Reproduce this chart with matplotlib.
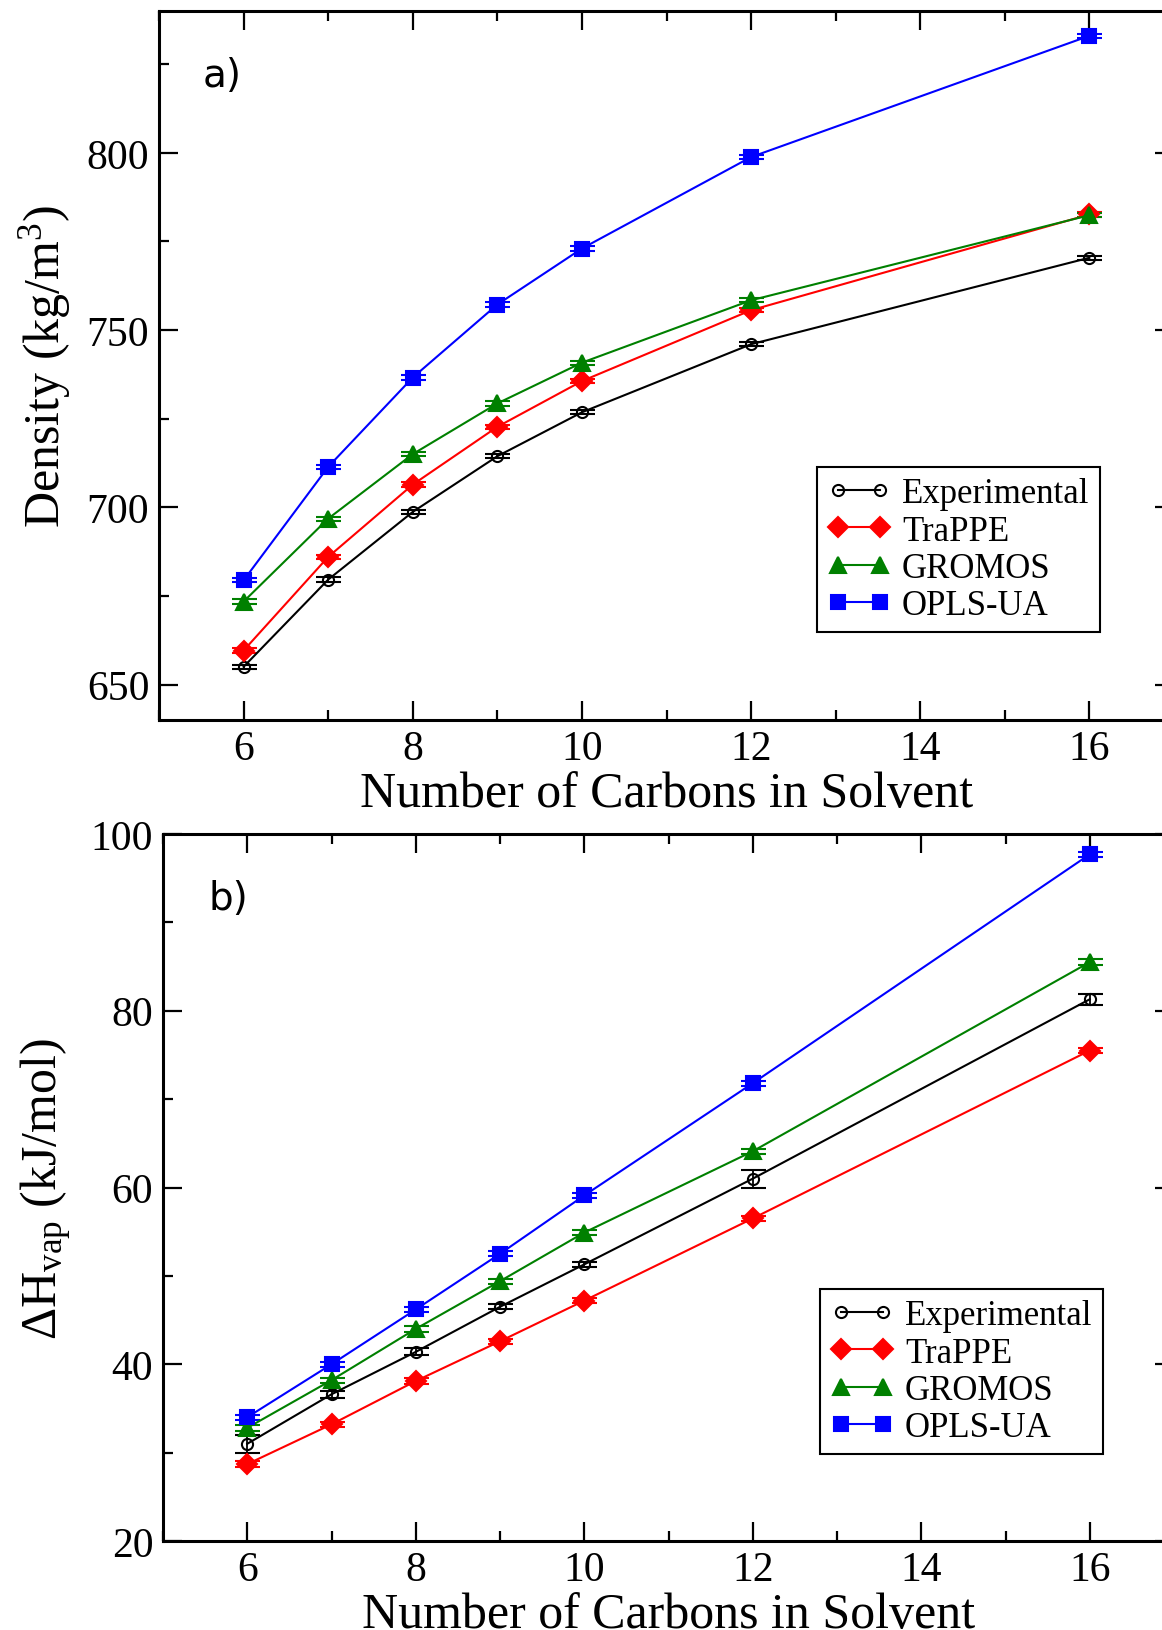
import numpy as np
import matplotlib
matplotlib.use('Agg')
import matplotlib.pyplot as plt

plt.rcParams['font.family'] = ['Liberation Serif', 'DejaVu Serif']
plt.rcParams['mathtext.fontset'] = 'custom'
plt.rcParams['mathtext.rm'] = 'Liberation Serif'
plt.rcParams['mathtext.it'] = 'Liberation Serif'

# carbons in solvent
carbons = [6, 7, 8, 9, 10, 12, 16]
labels = ['Experimental', 'TraPPE', 'GROMOS', 'OPLS-UA']

# a) density (kg/m^3)
dens_exp = [655.0, 679.6, 698.7, 714.4, 726.8, 746.0, 770.4]
dens_trappe = [659.6, 686.0, 706.4, 722.7, 735.6, 755.6, 782.6]
dens_gromos = [673.4, 696.8, 715.0, 729.3, 740.8, 758.4, 782.4]
dens_opls = [679.4, 711.4, 736.6, 757.2, 773.0, 798.8, 833.0]
dens_err = [0.6, 0.6, 0.6, 0.6, 0.6, 0.6, 0.6]

# b) heat of vaporization (kJ/mol)
hvap_exp = [31.0, 36.6, 41.4, 46.5, 51.3, 61.0, 81.3]
hvap_exp_err = [1.0, 0.4, 0.4, 0.3, 0.3, 1.0, 0.6]
hvap_trappe = [28.7, 33.2, 38.1, 42.6, 47.2, 56.5, 75.5]
hvap_gromos = [32.8, 38.2, 44.0, 49.4, 54.9, 64.1, 85.5]
hvap_opls = [34.0, 40.0, 46.2, 52.5, 59.1, 71.8, 97.7]
hvap_err = [0.3, 0.3, 0.3, 0.3, 0.3, 0.3, 0.3]

colors = ['black', 'red', 'green', 'blue']
markers = ['o', 'D', '^', 's']
msizes = [8, 10, 12, 10]

W, H = 1162, 1631
fig = plt.figure(figsize=(W / 100, H / 100), dpi=100)

def make_axes(left, right, top, bottom):
    return fig.add_axes([left / W, 1 - bottom / H, (right - left) / W, (bottom - top) / H])

ax1 = make_axes(159, 1174, 12, 721)
ax2 = make_axes(163, 1174, 835, 1542)


def style(ax):
    for s in ax.spines.values():
        s.set_linewidth(2.2)
    ax.tick_params(which='both', direction='in', top=True, right=True, width=1.6,
                   labelsize=30, pad=7)
    ax.tick_params(which='major', length=14)
    ax.tick_params(which='minor', length=7)
    ax.set_xlim(5, 17)
    ax.set_xticks([6, 8, 10, 12, 14, 16])
    ax.set_xticks([5, 7, 9, 11, 13, 15, 17], minor=True)
    ax.set_xlabel('Number of Carbons in Solvent', fontsize=36, labelpad=2)


def draw(ax, series, errs):
    for i, y in enumerate(series):
        mfc = 'none' if markers[i] == 'o' else colors[i]
        ax.errorbar(carbons, y, yerr=errs[i], color=colors[i], marker=markers[i],
                    ms=msizes[i], mfc=mfc, mec=colors[i], mew=1.5, lw=1.5,
                    elinewidth=1.3, capsize=9, capthick=1.3, label=labels[i])
    h, l = ax.get_legend_handles_labels()
    h = [x[0] for x in h]
    return h, l


def add_legend(ax, x0, y0):
    leg = ax.legend(h, l, loc='upper left', bbox_to_anchor=(x0, y0),
                    fontsize=25, numpoints=2, handlelength=1.8, handletextpad=0.35,
                    borderpad=0.3, labelspacing=0.12, fancybox=False, framealpha=1,
                    edgecolor='black', borderaxespad=0)
    leg.get_frame().set_linewidth(1.5)


# panel a
style(ax1)
ax1.set_ylim(640, 840)
ax1.set_yticks([650, 700, 750, 800])
ax1.set_yticks([675, 725, 775, 825], minor=True)
h, l = draw(ax1, [dens_exp, dens_trappe, dens_gromos, dens_opls],
            [dens_err, dens_err, dens_err, dens_err])
ax1.set_ylabel('Density (kg/m$^{3}$)', fontsize=36, labelpad=10)
ax1.text(0.043, 0.91, 'a)', transform=ax1.transAxes, fontsize=28,
         family='DejaVu Sans', va='center')
add_legend(ax1, (817 - 159) / 1015, (721 - 468) / 709)

# panel b
style(ax2)
ax2.set_ylim(20, 100)
ax2.set_yticks([20, 40, 60, 80, 100])
ax2.set_yticks([30, 50, 70, 90], minor=True)
h, l = draw(ax2, [hvap_exp, hvap_trappe, hvap_gromos, hvap_opls],
            [hvap_exp_err, hvap_err, hvap_err, hvap_err])
ax2.set_ylabel(r'$\Delta$H$_{\mathrm{vap}}$ (kJ/mol)', fontsize=36, labelpad=12)
ax2.text(0.045, 0.91, 'b)', transform=ax2.transAxes, fontsize=28,
         family='DejaVu Sans', va='center')
add_legend(ax2, (820 - 163) / 1011, (1542 - 1290) / 707)

fig.savefig('out.png', dpi=100)
